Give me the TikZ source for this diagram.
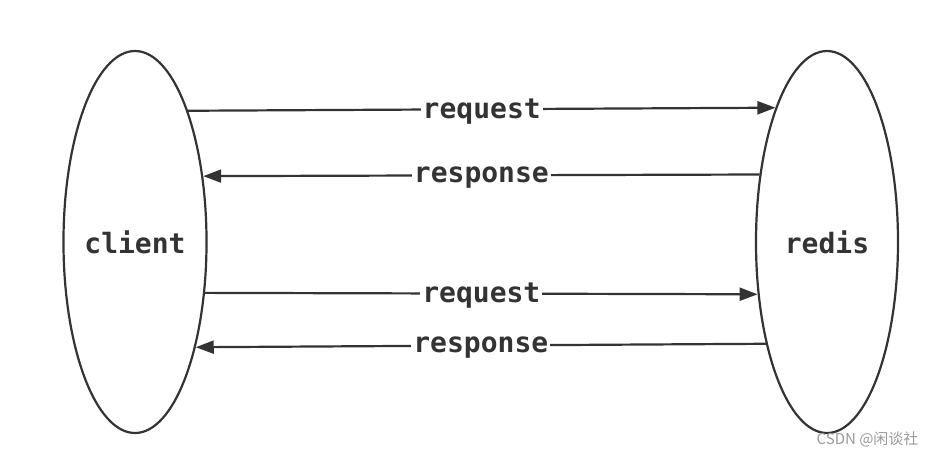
\documentclass[tikz,border=0pt]{standalone}
\usepackage{fontspec}
\newfontfamily\labelfont{DejaVu Sans Mono}
\newfontfamily\cjk{Noto Sans CJK SC}
\usetikzlibrary{shapes.geometric,arrows.meta}
\definecolor{ink}{HTML}{333333}
\begin{document}
\begin{tikzpicture}[x=1pt,y=-1pt,
  party/.style={draw=ink,line width=2.2pt,ellipse,minimum width=142pt,minimum height=382pt,inner sep=0pt,
    font=\labelfont\bfseries\fontsize{28}{32}\selectfont,text=ink},
  msg/.style={draw=ink,line width=2.2pt,-{Triangle[length=18pt,width=13pt]}},
  lbl/.style={fill=white,inner sep=2pt,yshift=-2.5pt,text=ink,font=\labelfont\bfseries\fontsize{28}{32}\selectfont}]
\useasboundingbox (0,0) rectangle (935,456);
\node[party] (client) at (135,242) {client};
\node[party] (redis) at (827,242) {redis};
\draw[msg] (client.68.6) -- node[lbl] (req1) {request} (redis.111.4);
\draw[msg] (redis.135.3) -- node[lbl] (res1) {response} (client.44.7);
\draw[msg] (client.-36.1) -- node[lbl] (req2) {request} (redis.-143.9);
\draw[msg] (redis.-121.2) -- node[lbl] (res2) {response} (client.-60.5);
\node[text=gray!80,font=\cjk\fontsize{15}{17}\selectfont,anchor=east] (wm) at (922,439) {CSDN @闲谈社};
\end{tikzpicture}
\end{document}
